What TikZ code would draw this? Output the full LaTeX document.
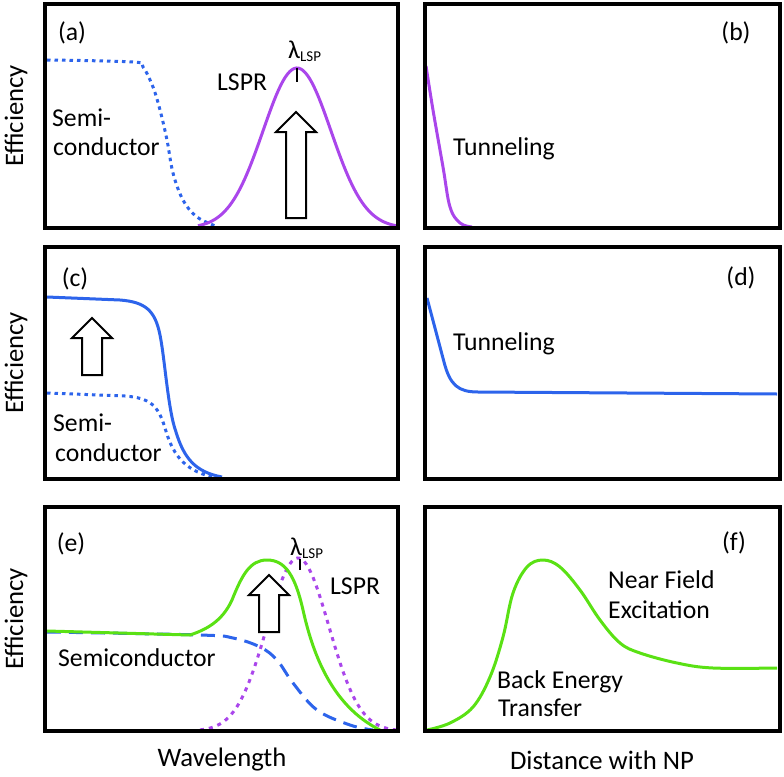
\documentclass[tikz,border=0pt]{standalone}
\usepackage{fontspec}
\setmainfont{Carlito}
\usepackage{xcolor}
\usepackage{tikz}

\definecolor{lsprcol}{RGB}{170,70,235}
\definecolor{semicol}{RGB}{45,100,235}
\definecolor{hybcol}{RGB}{90,225,20}

\tikzset{
  panel/.style={line width=4pt},
  curve/.style={line width=3pt},
  arrowbox/.style={draw=black, fill=white, line width=2pt, line join=miter},
  lbl/.style={inner sep=0pt, font=\fontsize{25.7}{30}\selectfont},
  axislbl/.style={inner sep=0pt, font=\fontsize{26.7}{32}\selectfont},
  dotline/.style={dash pattern=on 3.5pt off 4pt},
  dotbig/.style={dash pattern=on 4pt off 5pt},
  dashline/.style={dash pattern=on 14pt off 8pt},
}

% hollow up arrow: x, tip y, bottom y
\newcommand{\blockarrow}[3]{\draw[arrowbox] (#1,#2) -- ({#1+20},{#2+20}) -- ({#1+10},{#2+20}) -- ({#1+10},#3) -- ({#1-10},#3) -- ({#1-10},{#2+20}) -- ({#1-20},{#2+20}) -- cycle;}
\newcommand{\lsplabel}{λ\raisebox{-3pt}{\fontsize{15}{15}\selectfont LSP}}

\begin{document}
\begin{tikzpicture}[x=1pt,y=-1pt]
\useasboundingbox (0,0) rectangle (784,776);

% (a)
\draw[curve, semicol, dotline] plot[smooth, tension=0.6] coordinates {(47,60) (133,62) (143,67) (153,87) (160,110) (167,140) (173,173) (183,200) (197,217) (218,227)};
\draw[curve, lsprcol] plot[domain=198:397, samples=90] (\x,{228-160*exp(-((\x-297)^2)/2312)});
\blockarrow{296}{112}{218}
\draw[line width=2pt] (297,68) -- (297,82);
\node[lbl] (taga) at (72,33) {(a)};
\node[lbl, anchor=base west] (lspa) at (288,59) {\lsplabel};
\node[lbl, anchor=base west] (lspra) at (217,90) {LSPR};
\node[lbl, anchor=base west] (semia) at (52,126) {Semi-};
\node[lbl, anchor=base west] (conda) at (53,155) {conductor};
\draw[panel] (45,3.7) rectangle (398,228);

% (b)
\draw[curve, lsprcol] plot[smooth, tension=0.6] coordinates {(426,66) (433,110) (443,167) (450,207) (460,223) (472,227)};
\node[lbl] (tagb) at (736,33) {(b)};
\node[lbl, anchor=base west] (tunb) at (453,155) {Tunneling};
\draw[panel] (425.3,3.7) rectangle (779.7,228);

% (c)
\draw[curve, semicol, dotline] (47,393) -- (125,396) .. controls (150,398) and (158,405) .. (165,428) .. controls (172,452) and (182,470) .. (213,477);
\draw[curve, semicol] (47,297) -- (120,300) .. controls (145,302) and (155,310) .. (160,335) .. controls (165,360) and (168,410) .. (176,432) .. controls (184,458) and (195,472) .. (222,477);
\blockarrow{92}{318}{375}
\node[lbl] (tagc) at (75,279) {(c)};
\node[lbl, anchor=base west] (semic) at (53,431.5) {Semi-};
\node[lbl, anchor=base west] (condc) at (55,461) {conductor};
\draw[panel] (45,247) rectangle (398,478.5);

% (d)
\draw[curve, semicol] (427,298) -- (444,362) .. controls (450,385) and (458,392) .. (478,392) -- (777,394);
\node[lbl] (tagd) at (741,278) {(d)};
\node[lbl, anchor=base west] (tund) at (453,350) {Tunneling};
\draw[panel] (425.3,247) rectangle (779.7,478.5);

% (e)
\draw[curve, semicol, dashline] plot[smooth, tension=0.6] coordinates {(47,632) (200,635) (233,638) (260,647) (277,660) (293,683) (317,710) (350,725) (373,730)};
\draw[curve, lsprcol, dotbig] plot[domain=200:397, samples=90] (\x,{731-173*exp(-((\x-298)^2)/1900)});
\draw[curve, hybcol] (47,631) -- (190,635) .. controls (205,630) and (222,622) .. (232,600) .. controls (242,575) and (250,560) .. (267,560) .. controls (285,560) and (295,575) .. (303,610) .. controls (312,650) and (330,705) .. (380,730);
\blockarrow{269}{575}{632}
\draw[line width=2pt] (300,559) -- (300,570);
\node[lbl] (tage) at (71,544) {(e)};
\node[lbl, anchor=base west] (lspe) at (290,555) {\lsplabel};
\node[lbl, anchor=base west] (lspre) at (330,594.5) {LSPR};
\node[lbl, anchor=base west] (semie) at (58,666.5) {Semiconductor};
\draw[panel] (45,507) rectangle (398,731);

% (f)
\draw[curve, hybcol] plot[smooth, tension=0.6] coordinates {(427,730) (450,723) (473,707) (490,677) (503,637) (513,593) (527,567) (543,560) (560,567) (580,590) (600,620) (620,643) (640,653) (677,663) (713,668) (777,668)};
\node[lbl] (tagf) at (734,543) {(f)};
\node[lbl, anchor=base west] (nearf) at (608,588.5) {Near Field};
\node[lbl, anchor=base west] (excf) at (608,618.5) {Excitation};
\node[lbl, anchor=base west] (backf) at (497,688.5) {Back Energy};
\node[lbl, anchor=base west] (transf) at (498,716.5) {Transfer};
\draw[panel] (425.3,507) rectangle (779.7,731);

% axes
\node[axislbl, rotate=90] (effa) at (16,116) {Efficiency};
\node[axislbl, rotate=90] (effc) at (16,363) {Efficiency};
\node[axislbl, rotate=90] (effe) at (16,619) {Efficiency};
\node[axislbl] (wave) at (222,760) {Wavelength};
\node[axislbl] (dist) at (602,760) {Distance with NP};
\end{tikzpicture}
\end{document}
